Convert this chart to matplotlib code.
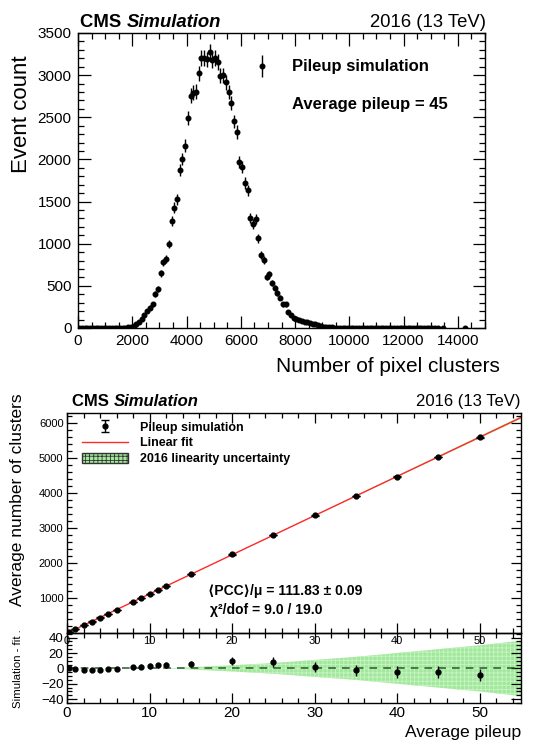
"""
plot.py

CMS simulation: pixel cluster count distribution at pileup 45 (top) and
average number of clusters vs. pileup with linear fit and residuals (bottom).
"""

import numpy as np
import matplotlib
matplotlib.use("Agg")
import matplotlib.pyplot as plt
from matplotlib.ticker import MultipleLocator
from matplotlib.patches import Patch
from matplotlib.lines import Line2D
from matplotlib.container import ErrorbarContainer
from matplotlib.legend_handler import HandlerErrorbar

plt.rcParams["font.family"] = ["Liberation Sans", "DejaVu Sans"]
plt.rcParams["hatch.linewidth"] = 0.6

# ─── Data: top panel (histogram, 100-cluster bins) ────────────────────────────
BIN_WIDTH = 100
N_LEADING_ZEROS = 15          # bins 0 .. 1500 empty
counts_core = [
    1, 2, 4, 8, 12, 24, 44, 71, 111, 151,
    202, 242, 282, 401, 468, 647, 778, 814, 996, 1274,
    1429, 1528, 1878, 2005, 2164, 2490, 2756, 2794, 2805, 3023,
    3202, 3202, 3187, 3271, 3183, 3202, 3157, 2992, 2996, 2916,
    2801, 2668, 2450, 2326, 1969, 1909, 1719, 1632, 1302, 1234,
    1294, 1064, 865, 806, 607, 635, 536, 476, 417, 361,
    282, 282, 190, 151, 123, 103, 91, 83, 71, 71,
    60, 52, 44, 32, 24, 16, 12, 8, 6, 4,
    3, 2, 2, 1, 1,
]
errors_core = [
    2, 2, 3, 5, 6, 8, 11, 14, 17, 20,
    23, 26, 28, 33, 36, 42, 46, 47, 52, 59,
    62, 64, 72, 74, 77, 82, 87, 87, 87, 91,
    93, 93, 93, 94, 93, 93, 93, 90, 90, 89,
    87, 85, 82, 80, 73, 72, 68, 67, 60, 58,
    59, 54, 49, 47, 41, 42, 38, 36, 34, 31,
    28, 28, 23, 20, 18, 17, 16, 15, 14, 14,
    13, 12, 11, 9, 8, 7, 6, 5, 4, 3,
    3, 2, 2, 2, 2,
]
N_TRAILING_ZEROS = 33         # bins up to ~13300 drawn at zero
tail_counts = [np.nan, 2, np.nan, np.nan, np.nan, np.nan, np.nan, np.nan,
               np.nan, 2, np.nan, np.nan]

counts = np.concatenate([np.zeros(N_LEADING_ZEROS), counts_core,
                         np.zeros(N_TRAILING_ZEROS), tail_counts])
errors = np.concatenate([np.zeros(N_LEADING_ZEROS), errors_core,
                         np.zeros(N_TRAILING_ZEROS), np.zeros(len(tail_counts))])
centers = BIN_WIDTH * (np.arange(len(counts)) + 0.5)

# ─── Data: bottom panel ───────────────────────────────────────────────────────
pileup = [0.3, 1, 2, 3, 4, 5, 6, 8, 9, 10, 11, 12, 15, 20, 25, 30, 35, 40, 45, 50]
avg_clusters = [38, 116, 227, 338, 450, 563, 675, 901, 1014, 1126, 1239, 1351,
                1688, 2251, 2809, 3362, 3917, 4473, 5032, 5588]
residuals = [0.0, -0.4, -1.7, -2.2, -1.9, -1.3, -0.8, 1.2, 2.2, 3.0, 3.9, 4.3,
             6.0, 9.8, 8.4, 2.0, -2.6, -4.8, -5.2, -8.7]
resid_err = [1.5, 1.8, 2.0, 2.2, 2.4, 2.6, 2.8, 3.0, 3.2, 3.4, 3.5, 3.6,
             4.2, 5.6, 6.2, 6.6, 7.0, 7.4, 7.8, 8.2]
fit_slope = 111.83
fit_intercept = 5.0
band_x = [0, 12, 15, 20, 25, 30, 35, 40, 45, 50, 55]
band_halfwidth = [0, 0, 1.5, 4, 7, 11, 15, 20, 25, 30, 36]

W, H = 535, 741
BAND_FACE = "#a2e89c"
BAND_HATCH = "#c8f4c4"


def fx(px):
    return px / W


def fy(py):
    return 1 - py / H


def root_ticks(ax, major_len, minor_len, labelsize, pad):
    ax.tick_params(which="both", direction="in", top=True, right=True,
                   width=0.9, labelsize=labelsize, pad=pad)
    ax.tick_params(which="major", length=major_len)
    ax.tick_params(which="minor", length=minor_len)
    for s in ax.spines.values():
        s.set_linewidth(1.0)


def cms_header(fig, x_left, x_right, y_base, size):
    r = fig.canvas.get_renderer()
    t = fig.text(x_left, y_base, "CMS ", fontsize=size, fontweight="bold",
                 va="baseline")
    bb = t.get_window_extent(renderer=r)
    fig.text(bb.x1 / fig.bbox.width, y_base, "Simulation", fontsize=size,
             fontweight="bold", style="italic", va="baseline")
    fig.text(x_right, y_base, "2016 (13 TeV)", fontsize=size, ha="right",
             va="baseline")


fig = plt.figure(figsize=(W / 100, H / 100), dpi=100)

# ─── Top panel ────────────────────────────────────────────────────────────────
ax1 = fig.add_axes([fx(78), fy(328), fx(485) - fx(78), fy(33) - fy(328)])
eb1 = ax1.errorbar(centers, counts, yerr=errors, fmt="o", color="k", ms=3.3,
                   elinewidth=1, capsize=0)
ax1.set_xlim(0, 15000)
ax1.set_ylim(0, 3500)
ax1.xaxis.set_major_locator(MultipleLocator(2000))
ax1.xaxis.set_minor_locator(MultipleLocator(500))
ax1.yaxis.set_major_locator(MultipleLocator(500))
ax1.yaxis.set_minor_locator(MultipleLocator(100))
root_ticks(ax1, 9, 4.5, 11, 4.5)

ax1.legend(handles=[eb1], labels=["Pileup simulation"], loc="center left",
           bbox_to_anchor=(fx(254), fy(67)), bbox_transform=fig.transFigure,
           frameon=False, borderpad=0, borderaxespad=0, handlelength=1.0,
           handletextpad=1.3, prop={"weight": "bold", "size": 12},
           handler_map={ErrorbarContainer: HandlerErrorbar(yerr_size=0.65)})
fig.text(fx(292), fy(105), "Average pileup = 45", fontsize=12,
         fontweight="bold", va="center")

fig.text(fx(22), fy(55), "Event count", rotation=90, fontsize=16,
         ha="center", va="top")
fig.text(fx(500), fy(366), "Number of pixel clusters", fontsize=15,
         ha="right", va="center")
cms_header(fig, fx(80), fx(486), fy(27), 13.3)

# ─── Bottom panel: main ───────────────────────────────────────────────────────
ax3 = fig.add_axes([fx(67), fy(703), fx(521) - fx(67), fy(633) - fy(703)])
ax2 = fig.add_axes([fx(67), fy(633), fx(521) - fx(67), fy(413) - fy(633)])
ax2.set_zorder(ax3.get_zorder() + 1)
ax2.patch.set_alpha(0)

fit_x = np.array([0.0, 55.0])
fit_y = fit_intercept + fit_slope * fit_x
band_center = fit_intercept + fit_slope * np.array(band_x)
ax2.fill_between(band_x, band_center - np.array(band_halfwidth),
                 band_center + np.array(band_halfwidth), facecolor=BAND_FACE,
                 edgecolor=BAND_HATCH, hatch="++++", lw=0)
ax2.plot(fit_x, fit_y, color="#ff2a2a", lw=1.0)
eb2 = ax2.errorbar(pileup, avg_clusters, yerr=resid_err, fmt="o", color="k",
                   ms=3.5, elinewidth=1, capsize=3)
ax2.set_xlim(0, 55)
ax2.set_ylim(10, 6285)
ax2.xaxis.set_major_locator(MultipleLocator(10))
ax2.xaxis.set_minor_locator(MultipleLocator(2))
ax2.yaxis.set_major_locator(MultipleLocator(1000))
ax2.yaxis.set_minor_locator(MultipleLocator(200))
root_ticks(ax2, 7, 3.5, 8, 2.5)

fit_handle = Line2D([], [], color="#ff2a2a", lw=1.0)
band_handle = Patch(facecolor=BAND_FACE, edgecolor="#333333", hatch="++++",
                    lw=1.0)
ax2.legend(handles=[eb2, fit_handle, band_handle],
           labels=["Pileup simulation", "Linear fit",
                   "2016 linearity uncertainty"],
           loc="upper left", bbox_to_anchor=(fx(82), fy(421)),
           bbox_transform=fig.transFigure, frameon=False, borderpad=0,
           borderaxespad=0, handlelength=3.7, handleheight=0.95,
           handletextpad=0.9, labelspacing=0.25,
           prop={"weight": "bold", "size": 9})

fig.text(fx(208), fy(591), "\u27e8PCC\u27e9/\u03bc = 111.83 \u00b1 0.09",
         fontsize=10, fontweight="bold", va="center")
fig.text(fx(210), fy(610), "\u03c7\u00b2/dof = 9.0 / 19.0", fontsize=10,
         fontweight="bold", va="center")

fig.text(fx(18), fy(393), "Average number of clusters", rotation=90,
         fontsize=12.5, ha="center", va="top")
cms_header(fig, fx(72), fx(521), fy(406), 12)

# ─── Bottom panel: residuals ──────────────────────────────────────────────────
ax3.fill_between(band_x, -np.array(band_halfwidth), band_halfwidth,
                 facecolor=BAND_FACE, edgecolor=BAND_HATCH, hatch="++++", lw=0)
ax3.axhline(0, color="#285a28", lw=1.1, dashes=(5, 4))
ax3.errorbar(pileup, residuals, yerr=resid_err, fmt="o", color="k", ms=3.5,
             elinewidth=1, capsize=0)
ax3.set_xlim(0, 55)
ax3.set_ylim(-45, 46)
ax3.xaxis.set_major_locator(MultipleLocator(10))
ax3.xaxis.set_minor_locator(MultipleLocator(2))
ax3.yaxis.set_major_locator(MultipleLocator(20))
ax3.yaxis.set_minor_locator(MultipleLocator(5))
root_ticks(ax3, 7, 3.5, 11, 2)
ax3.tick_params(axis="y", labelsize=9.5, pad=2.5)

fig.text(fx(18), fy(669), "Simulation - fit .", rotation=90, fontsize=8.2,
         ha="center", va="center")
fig.text(fx(521), fy(732), "Average pileup", fontsize=12.6, ha="right",
         va="center")

fig.savefig("out.png", dpi=100)
